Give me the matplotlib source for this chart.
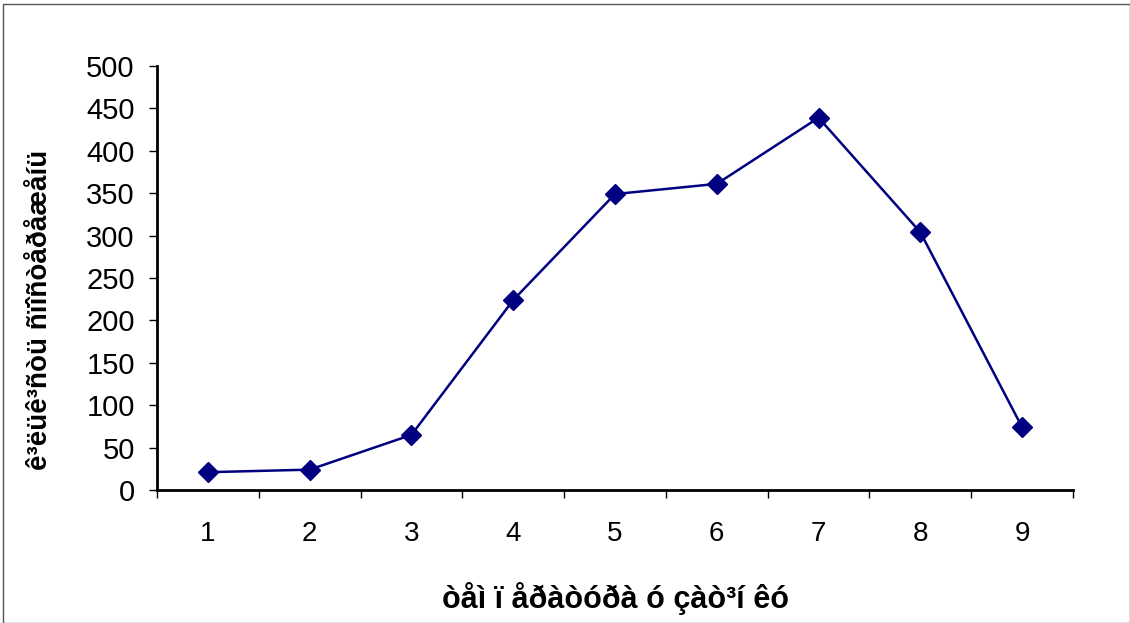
import matplotlib
matplotlib.use("Agg")
import matplotlib.pyplot as plt
from matplotlib.patches import Rectangle

# ---------------- data ----------------
categories = [1, 2, 3, 4, 5, 6, 7, 8, 9]
counts = [21, 24, 65, 224, 349, 361, 439, 304, 74]
y_ticks = [0, 50, 100, 150, 200, 250, 300, 350, 400, 450, 500]
x_label = "òåì ï åðàòóðà ó çàò³í êó"
y_label = "ê³ëüê³ñòü ñïîñòåðåæåíü"

plt.rcParams['font.family'] = ['Liberation Sans', 'DejaVu Sans']

fig = plt.figure(figsize=(11.30, 6.23), dpi=100)
ax = fig.add_axes([157 / 1130, 1 - 490 / 623, (1073 - 157) / 1130, (490 - 66) / 623])

ax.plot(categories, counts, color="#000080", marker="D", markersize=10, linewidth=1.8)

ax.set_xlim(0.5, 9.5)
ax.set_ylim(0, 500)
ax.set_yticks(y_ticks)
ax.set_xticks(categories)
ax.set_xticks([c + 0.5 for c in [0] + categories], minor=True)
ax.tick_params(axis="x", which="major", length=0, pad=22, labelsize=20)
ax.tick_params(axis="x", which="minor", length=6, width=1)
ax.tick_params(axis="y", length=6, width=1, labelsize=21, pad=10)

for s in ["top", "right"]:
    ax.spines[s].set_visible(False)
for s in ["left", "bottom"]:
    ax.spines[s].set_linewidth(2)

ax.set_xlabel(x_label, fontsize=22, fontweight="bold")
ax.xaxis.set_label_coords(0.5, -(582 - 490) / 424)
ax.set_ylabel(y_label, fontsize=20, fontweight="bold")
ax.yaxis.set_label_coords(-104 / 916, 0.5 - (310 - 278) / 424)

# outer chart border
fig.patches.append(Rectangle((3 / 1130, 0), 1 - 3 / 1130, 1 - 4 / 623,
                             transform=fig.transFigure, fill=False,
                             edgecolor="#555555", linewidth=1))

fig.savefig("out.png", dpi=100)
